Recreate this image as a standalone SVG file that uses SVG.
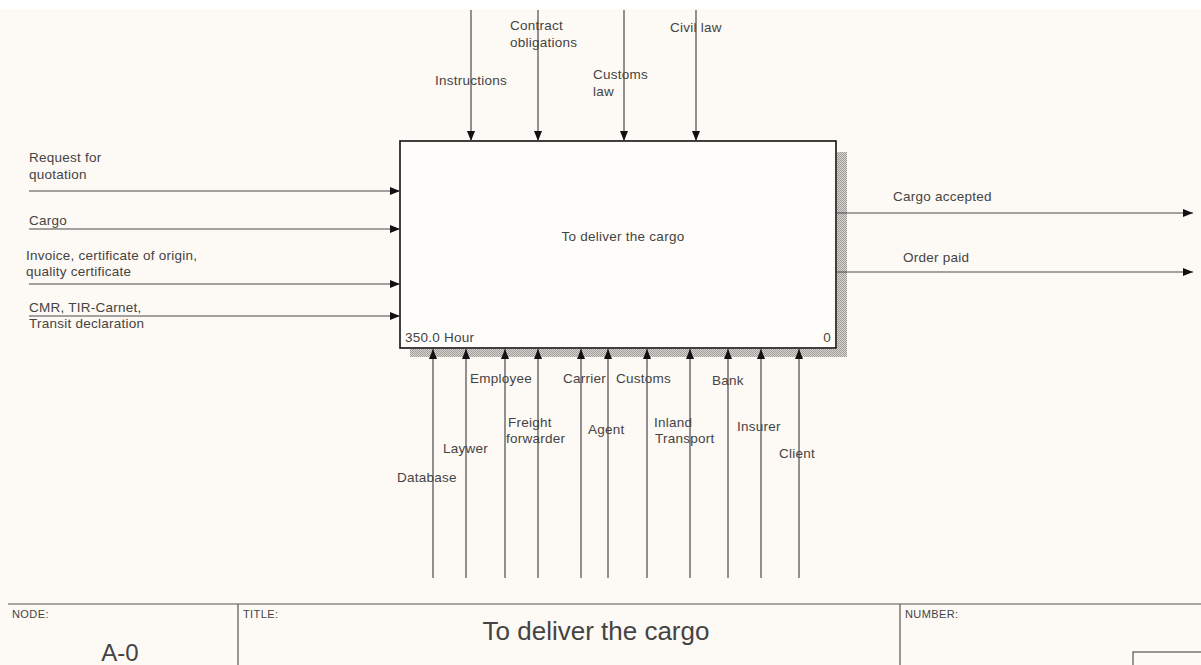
<svg xmlns="http://www.w3.org/2000/svg" width="1201" height="665" viewBox="0 0 1201 665">
<defs>
<marker id="ah" markerWidth="10" markerHeight="8" refX="10" refY="4" orient="auto" markerUnits="userSpaceOnUse">
<path d="M0,0 L10,4 L0,8 Z" fill="#111"/>
</marker>
<pattern id="dots" width="2" height="2" patternUnits="userSpaceOnUse">
<rect width="2" height="2" fill="#d8d4cf"/>
<rect width="1" height="1" fill="#a09c98"/>
<rect x="1" y="1" width="1" height="1" fill="#a09c98"/>
</pattern>
</defs>
<style>
text{font-family:"Liberation Sans",Arial,sans-serif;font-size:13.5px;letter-spacing:0.25px;fill:#444}
.small{font-size:11px;letter-spacing:0.4px}
.conn line{stroke:#4a4a4a;stroke-width:1.2;marker-end:url(#ah)}
.frame{stroke:#555;stroke-width:1.2;fill:none}
</style>
<rect x="0" y="0" width="1201" height="665" fill="#fdf9f4"/>
<rect x="0" y="0" width="1201" height="9" fill="#ffffff"/>

<g id="node-A0">
<rect x="837" y="152" width="10" height="205" fill="url(#dots)"/>
<rect x="410" y="349" width="437" height="8" fill="url(#dots)"/>
<rect x="400" y="141" width="436" height="207" fill="#fffdf9" stroke="#111" stroke-width="1.6"/>
<text x="623" y="241" text-anchor="middle">To deliver the cargo</text>
<text x="405" y="342">350.0 Hour</text>
<text x="831" y="342" text-anchor="end">0</text>
</g>

<g id="connectors" class="conn">
<line x1="471" y1="10" x2="471" y2="141"/>
<line x1="538" y1="10" x2="538" y2="141"/>
<line x1="624" y1="10" x2="624" y2="141"/>
<line x1="696" y1="10" x2="696" y2="141"/>
<line x1="29" y1="191" x2="400" y2="191"/>
<line x1="29" y1="229" x2="400" y2="229"/>
<line x1="29" y1="284" x2="400" y2="284"/>
<line x1="29" y1="316" x2="400" y2="316"/>
<line x1="836" y1="213" x2="1193" y2="213"/>
<line x1="836" y1="272" x2="1193" y2="272"/>
<line x1="433" y1="578" x2="433" y2="349"/>
<line x1="466" y1="578" x2="466" y2="349"/>
<line x1="505" y1="578" x2="505" y2="349"/>
<line x1="538" y1="578" x2="538" y2="349"/>
<line x1="581" y1="578" x2="581" y2="349"/>
<line x1="608" y1="578" x2="608" y2="349"/>
<line x1="647" y1="578" x2="647" y2="349"/>
<line x1="690" y1="578" x2="690" y2="349"/>
<line x1="728" y1="578" x2="728" y2="349"/>
<line x1="761" y1="578" x2="761" y2="349"/>
<line x1="799" y1="578" x2="799" y2="349"/>
</g>

<g id="labels">
<text x="435" y="85">Instructions</text>
<text x="510" y="30">Contract</text>
<text x="510" y="47">obligations</text>
<text x="593" y="79">Customs</text>
<text x="593" y="96">law</text>
<text x="670" y="32">Civil law</text>
<text x="29" y="162">Request for</text>
<text x="29" y="179">quotation</text>
<text x="29" y="225">Cargo</text>
<text x="26" y="260">Invoice, certificate of origin,</text>
<text x="26" y="276">quality certificate</text>
<text x="29" y="312">CMR, TIR-Carnet,</text>
<text x="29" y="328">Transit declaration</text>
<text x="893" y="201">Cargo accepted</text>
<text x="903" y="262">Order paid</text>
<text x="470" y="383">Employee</text>
<text x="563" y="383">Carrier</text>
<text x="616" y="383">Customs</text>
<text x="712" y="385">Bank</text>
<text x="508" y="427">Freight</text>
<text x="506" y="443">forwarder</text>
<text x="588" y="434">Agent</text>
<text x="654" y="427">Inland</text>
<text x="655" y="443">Transport</text>
<text x="737" y="431">Insurer</text>
<text x="779" y="458">Client</text>
<text x="443" y="453">Laywer</text>
<text x="397" y="482">Database</text>
</g>

<g id="footer">
<line class="frame" x1="8" y1="604" x2="1201" y2="604"/>
<line class="frame" x1="238" y1="604" x2="238" y2="665"/>
<line class="frame" x1="900" y1="604" x2="900" y2="665"/>
<rect class="frame" x="1133" y="652" width="70" height="20"/>
<text class="small" x="12" y="618">NODE:</text>
<text class="small" x="243" y="618">TITLE:</text>
<text class="small" x="905" y="618">NUMBER:</text>
<text x="120" y="661" text-anchor="middle" style="font-size:24px;letter-spacing:0">A-0</text>
<text x="596" y="640" text-anchor="middle" style="font-size:26px;letter-spacing:0">To deliver the cargo</text>
</g>
</svg>
